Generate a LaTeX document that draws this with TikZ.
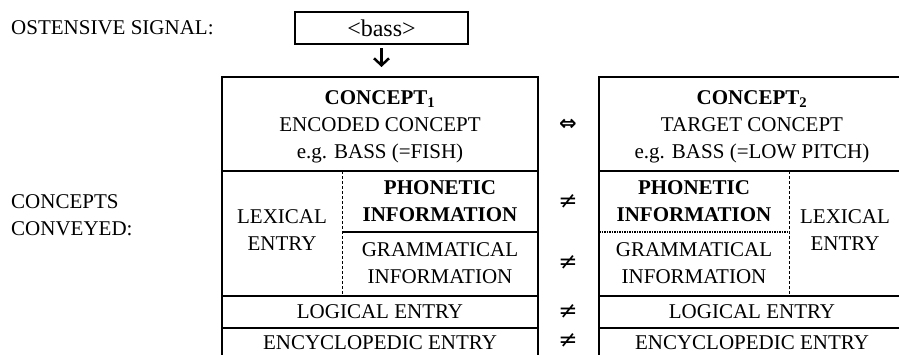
\documentclass[tikz,border=0pt]{standalone}
\usepackage{fontspec}
\setmainfont{Liberation Serif}
\newfontfamily\symfont{DejaVu Sans}
\newfontfamily\nefont{DejaVu Serif}
\usetikzlibrary{arrows.meta}
\usetikzlibrary{calc}

\tikzset{txt/.style={font=\fontsize{21}{27}\selectfont, align=center, inner sep=0pt},
         lbl/.style={font=\fontsize{21}{27}\selectfont, align=left, inner sep=0pt, anchor=west},
         frame/.style={line width=2pt},
         sym/.style={font=\fontsize{21}{24}\selectfont, inner sep=0pt},
         nesym/.style={font=\fontsize{23}{25}\selectfont\nefont, inner sep=0pt}}

\begin{document}
\begin{tikzpicture}[x=1pt,y=-1pt]
    \useasboundingbox (0,0) rectangle (899,354);
    \clip (0,0) rectangle (899,354);
    % signal
    \node[lbl] (sig) at (11,28) {OSTENSIVE SIGNAL:};
    \node[txt, font=\fontsize{24}{27}\selectfont, draw, line width=2pt, minimum width=173pt, minimum height=32pt] (bass) at (381.5,28) {<bass>};
    \coordinate (tip) at (381.5,67);
    \draw [line width=2.5pt,-{Straight Barb[length=7pt,width=15pt]}, shorten <=3pt] (bass.south) -- (tip);
    \node[lbl] (conv) at (11,215.5) {CONCEPTS\\CONVEYED:};
    % frames
    \draw [frame] (222,360) -- (222,77) -- (538,77) -- (538,360);
    \draw [frame] (599,360) -- (599,77) -- (905,77) -- (905,360);
    \draw [frame] (222,171) -- (538,171);
    \draw [frame] (599,171) -- (905,171);
    \draw [frame] (342,232) -- (538,232);
    \draw [line width=1.5pt, densely dotted] (599,232) -- (789,232);
    \draw [line width=1pt, densely dashed] (342,171) -- (342,296);
    \draw [line width=1pt, densely dashed] (789,171) -- (789,296);
    \draw [frame] (222,296) -- (538,296);
    \draw [frame] (599,296) -- (905,296);
    \draw [frame] (222,328) -- (538,328);
    \draw [frame] (599,328) -- (905,328);
    \draw [frame] (222,360) -- (538,360);
    \draw [frame] (599,360) -- (905,360);
    % concept 1
    \node[txt] (conA) at (380,127) {\textbf{CONCEPT\textsubscript{1}}\\ENCODED CONCEPT\\e.g. BASS (=FISH)};
    \node[txt] (lexA) at (282,230.5) {LEXICAL\\ENTRY};
    \node[txt] (phonA) at (440,201) {\textbf{PHONETIC}\\\textbf{INFORMATION}};
    \node[txt] (gramA) at (440,263) {GRAMMATICAL\\INFORMATION};
    \node[txt] (logA) at (380,312) {LOGICAL ENTRY};
    \node[txt] (encA) at (380,343) {ENCYCLOPEDIC ENTRY};
    % concept 2
    \node[txt] (conB) at (752,127) {\textbf{CONCEPT\textsubscript{2}}\\TARGET CONCEPT\\e.g. BASS (=LOW PITCH)};
    \node[txt] (phonB) at (694,201) {\textbf{PHONETIC}\\\textbf{INFORMATION}};
    \node[txt] (gramB) at (694,263) {GRAMMATICAL\\INFORMATION};
    \node[txt] (lexB) at (845,230.5) {LEXICAL\\ENTRY};
    \node[txt] (logB) at (752,312) {LOGICAL ENTRY};
    \node[txt] (encB) at (752,343) {ENCYCLOPEDIC ENTRY};
    % relations
    \node[sym] (eqv) at (568,125) {\symfont\bfseries ⇔};
    \node[nesym] (neA) at (568,202) {≠};
    \node[nesym] (neB) at (568,263) {≠};
    \node[nesym] (neC) at (568,312) {≠};
    \node[nesym] (neD) at (568,341) {≠};
\end{tikzpicture}
\end{document}
